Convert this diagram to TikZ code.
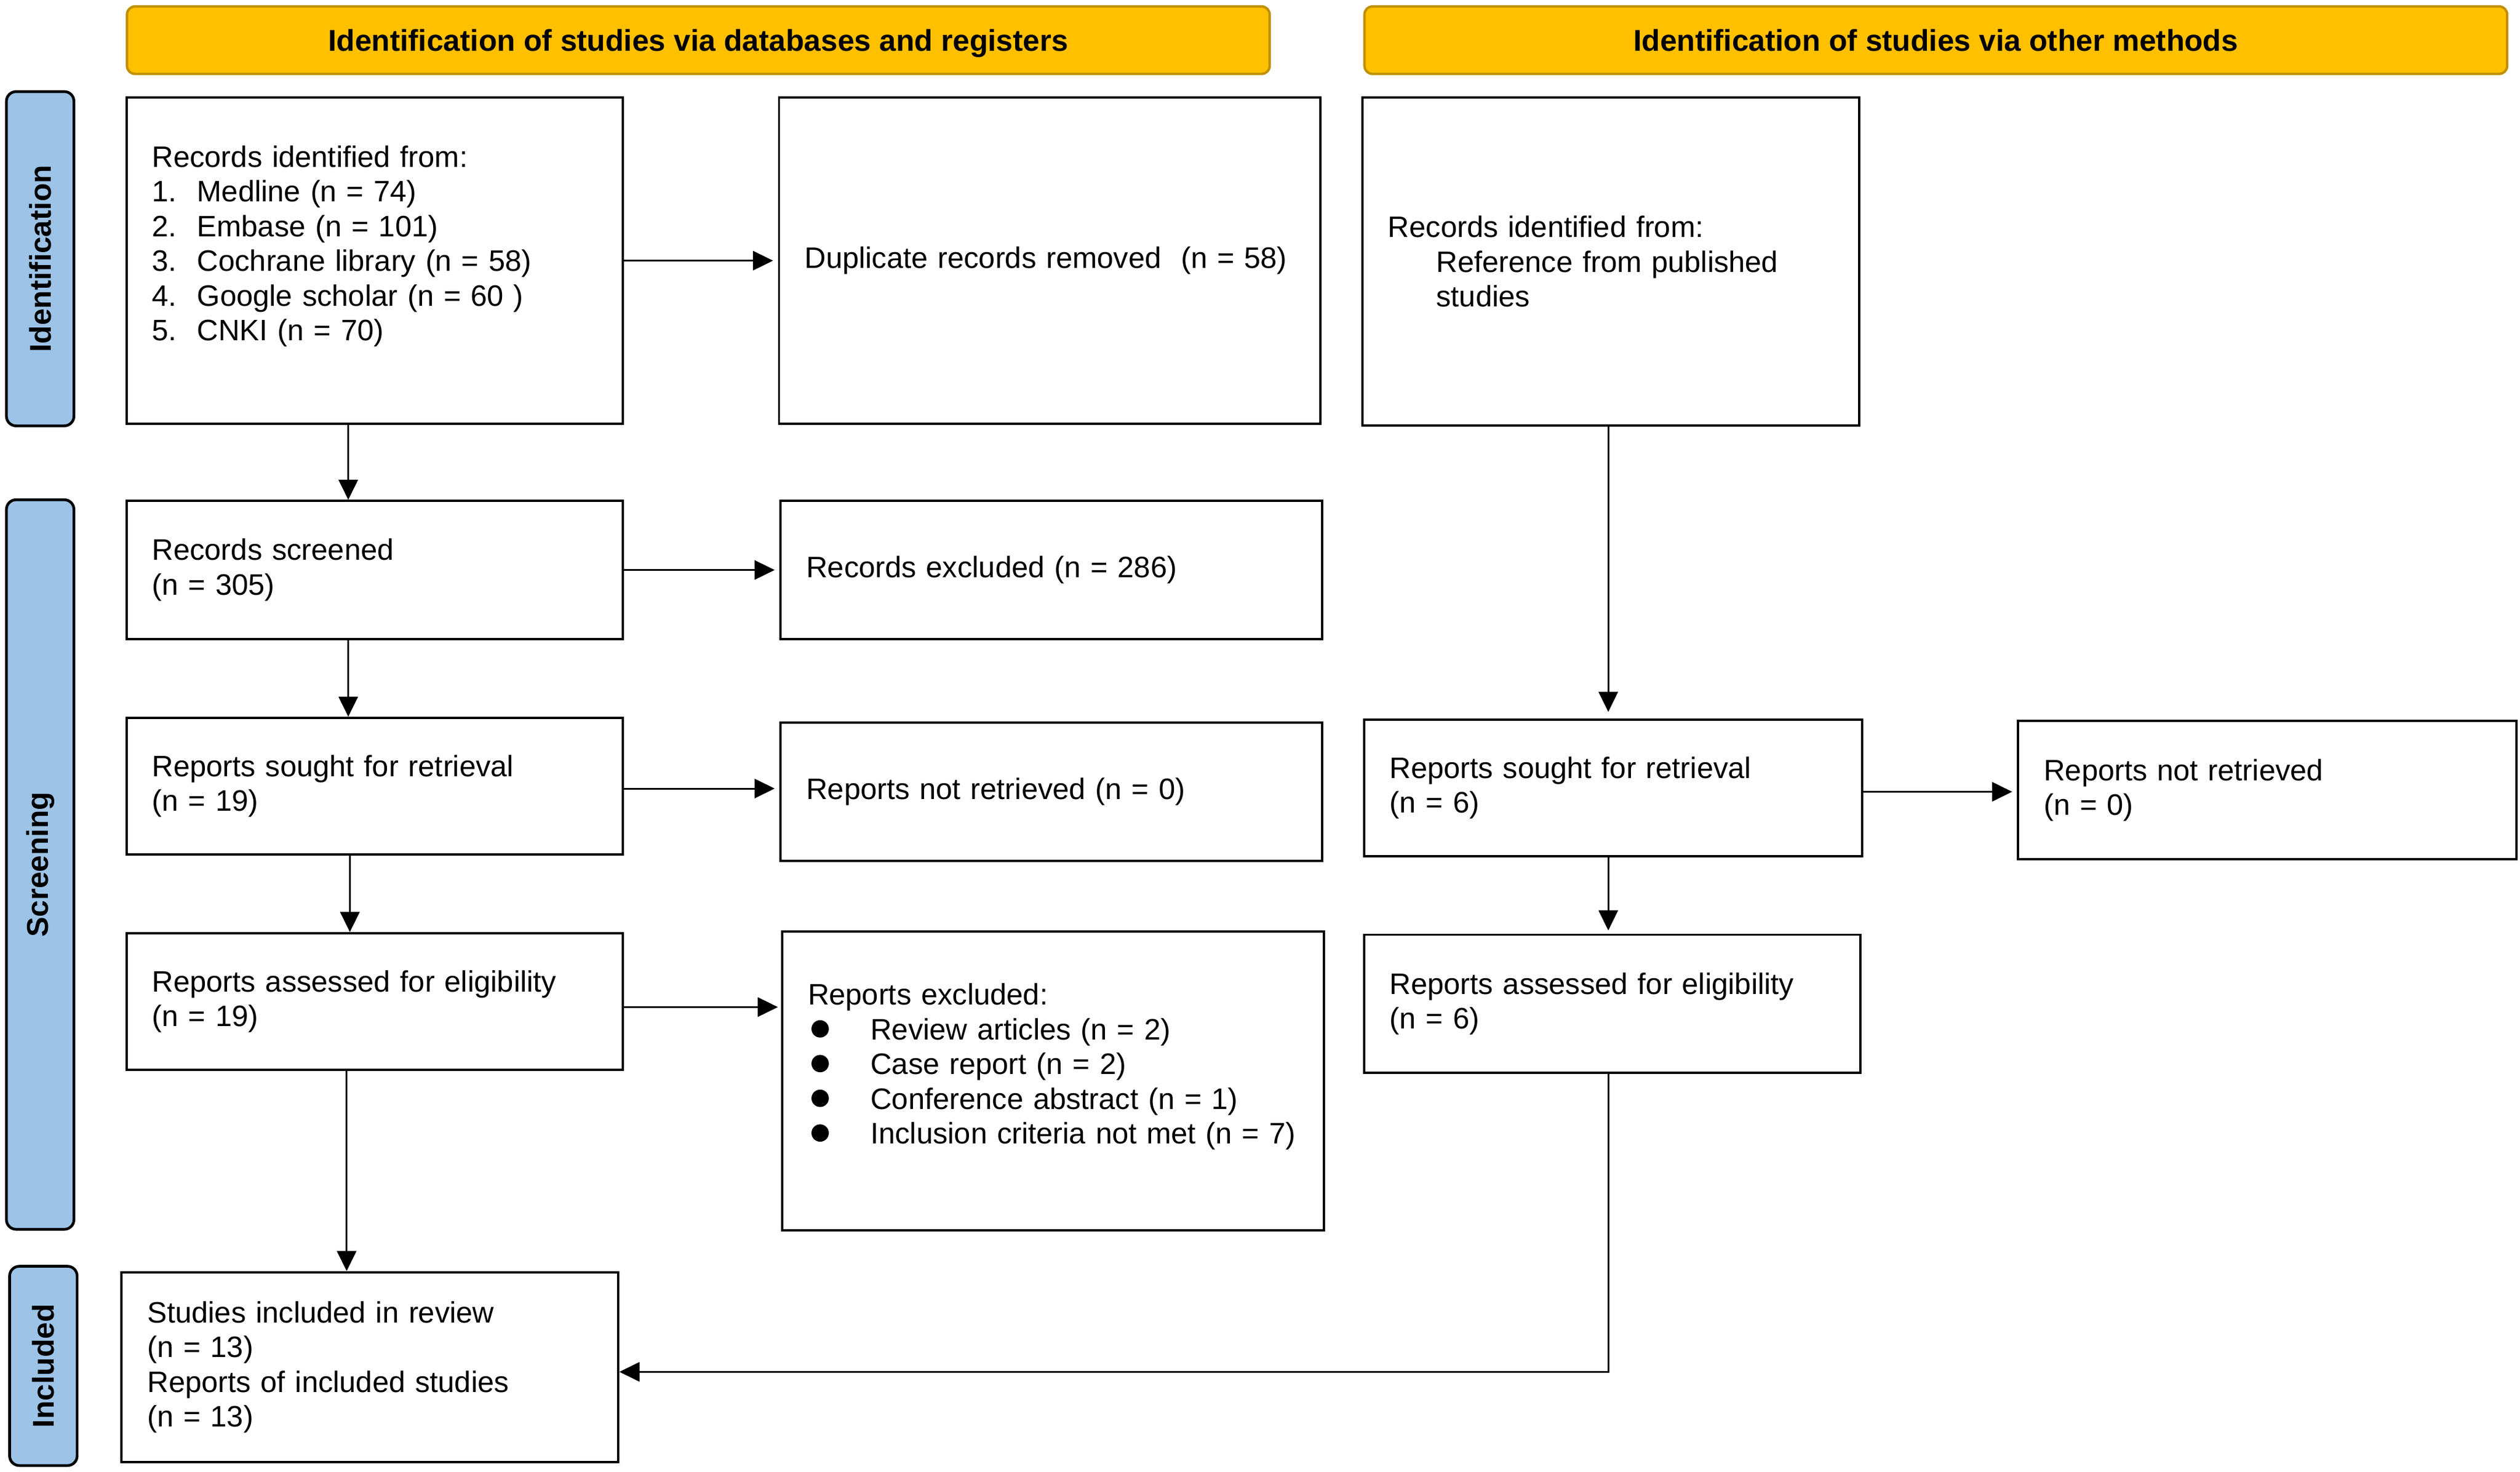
\documentclass[tikz,border=0pt]{standalone}
\usepackage{fontspec}
\setmainfont{Liberation Sans}
\usetikzlibrary{arrows.meta}
\definecolor{hdrfill}{HTML}{FFC000}
\definecolor{hdrline}{HTML}{BF9000}
\definecolor{sidefill}{HTML}{9DC3E6}
\newcommand\numitem[1]{\makebox[28pt][l]{#1}}
\newcommand\bdot{\makebox[39pt][l]{\hspace{2.2pt}\tikz[baseline=-6.7pt]{\fill (0,0) circle (5.4pt);}}}
\begin{document}
\begin{tikzpicture}[x=1pt,y=-1pt,
  hdr/.style={draw=hdrline, fill=hdrfill, line width=1.5pt, rounded corners=5pt,
    minimum width=711pt, minimum height=42pt, inner sep=0pt, text depth=0pt,
    font=\fontsize{18.7}{21.6}\selectfont\bfseries},
  side/.style={draw=black, fill=sidefill, line width=1.7pt, rounded corners=6pt,
    rotate=90, minimum height=42pt, inner sep=0pt,
    font=\fontsize{18.7}{21.6}\selectfont\bfseries},
  box/.style={draw=black, line width=1.4pt, anchor=north west, align=left,
    inner xsep=16pt, inner ysep=0pt,
    font=\fontsize{18.4}{21.6}\selectfont},
  arr/.style={draw=black, line width=1.1pt, -{Triangle[length=12.5pt,width=12pt]}},
]
\path[fill=white, use as bounding box] (0,0) rectangle (1568,916);

% headers
\node[hdr] (hA) at (434.5,25) {Identification of studies via databases and registers};
\node[hdr] (hB) at (1204.5,25) {Identification of studies via other methods};

% phase bars
\node[side, minimum width=208pt] (pI) at (25,161) {Identification};
\node[side, minimum width=454pt] (pS) at (25,538) {Screening};
\node[side, minimum width=124pt] (pN) at (27,850) {Included};

% boxes
\node[box, text width=277pt, minimum height=203pt] (idA) at (78,60)
  {Records identified from:\\ \numitem{1.}Medline (n = 74)\\ \numitem{2.}Embase (n = 101)\\
   \numitem{3.}Cochrane library (n = 58)\\ \numitem{4.}Google scholar (n = 60 )\\
   \numitem{5.}CNKI (n = 70)\\ \mbox{}};
\node[box, text width=305pt, minimum height=203pt] (dup) at (484,60)
  {\mbox{Duplicate records removed\ \ (n = 58)}};
\node[box, text width=277pt, minimum height=204pt] (idB) at (847,60)
  {Records identified from:\\ \hspace*{30pt}Reference from published\\ \hspace*{30pt}studies};
\node[box, text width=277pt, minimum height=86pt] (scr) at (78,311)
  {Records screened\\ (n = 305)};
\node[box, text width=305pt, minimum height=86pt] (exc) at (485,311)
  {Records excluded (n = 286)};
\node[box, text width=277pt, minimum height=85pt] (soA) at (78,446)
  {Reports sought for retrieval\\ (n = 19)};
\node[box, text width=305pt, minimum height=86pt] (nrA) at (485,449)
  {Reports not retrieved (n = 0)};
\node[box, text width=278pt, minimum height=85pt] (soB) at (848,447)
  {Reports sought for retrieval\\ (n = 6)};
\node[box, text width=278pt, minimum height=86pt] (nrB) at (1255,448)
  {Reports not retrieved\\ (n = 0)};
\node[box, text width=277pt, minimum height=85pt] (elA) at (78,580)
  {Reports assessed for eligibility\\ (n = 19)};
\node[box, text width=305pt, minimum height=186pt] (rex) at (486,579)
  {Reports excluded:\\ \bdot Review articles (n = 2)\\ \bdot Case report (n = 2)\\
   \bdot Conference abstract (n = 1)\\ \bdot\mbox{Inclusion criteria not met (n = 7)}\\ \mbox{}};
\node[box, text width=277pt, minimum height=86pt] (elB) at (848,581)
  {Reports assessed for eligibility\\ (n = 6)};
\node[box, text width=277pt, minimum height=118pt] (inc) at (75,791)
  {Studies included in review\\ (n = 13)\\ Reports of included studies\\ (n = 13)};

% connectors, left column
\coordinate (c1) at ([xshift=-16.5pt]idA.south);
\draw[arr] (c1) -- (c1 |- scr.north);
\coordinate (c2) at ([xshift=-16.5pt]scr.south);
\draw[arr] (c2) -- (c2 |- soA.north);
\coordinate (c3) at ([xshift=-15.5pt]soA.south);
\draw[arr] (c3) -- (c3 |- elA.north);
\coordinate (c4) at ([xshift=-17.5pt]elA.south);
\draw[arr] (c4) -- (c4 |- inc.north);
\draw[arr, shorten >=3pt] (idA.east) -- (idA.east -| dup.west);
\draw[arr, shorten >=3pt] (scr.east) -- (scr.east -| exc.west);
\coordinate (c5) at ([yshift=-1.5pt]soA.east);
\draw[arr, shorten >=3pt] (c5) -- (c5 -| nrA.west);
\coordinate (c6) at ([yshift=-3.5pt]elA.east);
\draw[arr, shorten >=2pt] (c6) -- (c6 -| rex.west);

% connectors, right column
\coordinate (c7) at ([xshift=-1.5pt]idB.south);
\draw[arr, shorten >=4pt] (c7) -- (c7 |- soB.north);
\coordinate (c8) at ([yshift=-2.5pt]soB.east);
\draw[arr, shorten >=3pt] (c8) -- (c8 -| nrB.west);
\coordinate (c9) at ([xshift=-3pt]soB.south);
\draw[arr, shorten >=2pt] (c9) -- (c9 |- elB.north);
\coordinate (c10) at ([xshift=-2.5pt]elB.south);
\coordinate (c11) at ([yshift=-3pt]inc.east);
\draw[arr] (c10) |- (c11);
\end{tikzpicture}
\end{document}
